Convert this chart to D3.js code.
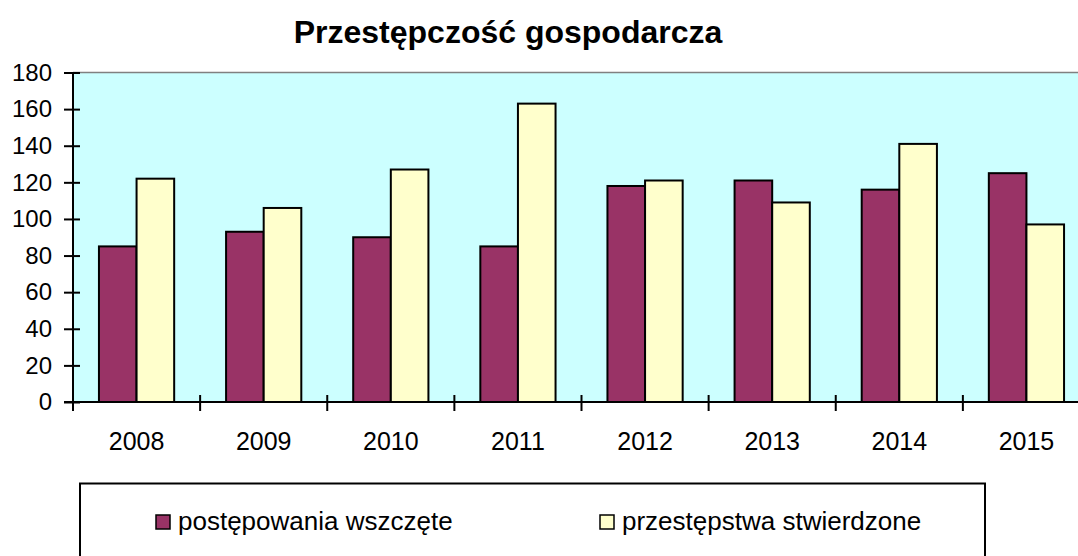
<!DOCTYPE html>
<html>
<head>
<meta charset="utf-8">
<script src="https://cdn.jsdelivr.net/npm/d3@7"></script>
<style>
  body { margin: 0; background: #fff; }
  text { font-family: "Liberation Sans", Arial, sans-serif; fill: #000; }
</style>
</head>
<body>
<svg id="chart" width="1078" height="556"></svg>
<script>
// data
const years = ["2008", "2009", "2010", "2011", "2012", "2013", "2014", "2015"];
const wszczete = [85, 93, 90, 85, 118, 121, 116, 125];
const stwierdzone = [122, 106, 127, 163, 121, 109, 141, 97];
const seriesNames = ["postępowania wszczęte", "przestępstwa stwierdzone"];
const seriesColors = ["#993366", "#FFFFCC"];
const yTicks = [0, 20, 40, 60, 80, 100, 120, 140, 160, 180];

const svg = d3.select("#chart");
const plot = {left: 73, top: 72.5, right: 1090, bottom: 402};

const x = d3.scaleBand().domain(years).range([plot.left, plot.right]);
const xInner = d3.scaleBand().domain([0, 1])
    .range([0, x.bandwidth()]).paddingOuter(0.69);
const y = d3.scaleLinear().domain([0, 180]).range([plot.bottom, plot.top]);

// plot background
svg.append("rect")
    .attr("x", plot.left).attr("y", plot.top)
    .attr("width", plot.right - plot.left).attr("height", plot.bottom - plot.top)
    .attr("fill", "#CCFFFF");
svg.append("line")
    .attr("x1", plot.left).attr("x2", plot.right)
    .attr("y1", y(180)).attr("y2", y(180))
    .attr("stroke", "#808080").attr("stroke-width", 1.5);

// bars
const groups = svg.append("g").selectAll("g")
    .data(years.map((yr, i) => ({yr, vals: [wszczete[i], stwierdzone[i]]})))
    .join("g")
    .attr("transform", d => `translate(${x(d.yr)},0)`);

groups.selectAll("rect")
    .data(d => d.vals.map((v, k) => ({v, k})))
    .join("rect")
    .attr("x", d => xInner(d.k))
    .attr("width", xInner.bandwidth())
    .attr("y", d => y(d.v))
    .attr("height", d => y(0) - y(d.v))
    .attr("fill", d => seriesColors[d.k])
    .attr("stroke", "#000").attr("stroke-width", 2);

// y axis
const yAxis = svg.append("g")
    .attr("transform", `translate(${plot.left},0)`)
    .call(d3.axisLeft(y).tickValues(yTicks).tickSize(0).tickPadding(21));
yAxis.select(".domain").remove();
yAxis.selectAll(".tick text").style("font-size", "24px")
    .attr("font-family", "Liberation Sans, Arial, sans-serif");
yAxis.selectAll(".tick").append("line")
    .attr("x1", -9).attr("x2", 7).attr("stroke", "#000").attr("stroke-width", 2);
svg.append("line")
    .attr("x1", plot.left).attr("x2", plot.left)
    .attr("y1", plot.top).attr("y2", plot.bottom + 9)
    .attr("stroke", "#000").attr("stroke-width", 2);

// x axis
svg.append("line")
    .attr("x1", plot.left - 9).attr("x2", plot.right)
    .attr("y1", plot.bottom).attr("y2", plot.bottom)
    .attr("stroke", "#000").attr("stroke-width", 2);
svg.append("g").selectAll("line")
    .data(years.slice(1))
    .join("line")
    .attr("x1", d => x(d)).attr("x2", d => x(d))
    .attr("y1", plot.bottom - 7).attr("y2", plot.bottom + 9)
    .attr("stroke", "#000").attr("stroke-width", 2);
svg.append("g").selectAll("text")
    .data(years)
    .join("text")
    .attr("x", d => x(d) + x.bandwidth() / 2)
    .attr("y", 450)
    .attr("text-anchor", "middle")
    .style("font-size", "25px")
    .text(d => d);

// title
svg.append("text")
    .attr("x", 508).attr("y", 43)
    .attr("text-anchor", "middle")
    .style("font-size", "32px").style("font-weight", "bold")
    .text("Przestępczość gospodarcza");

// legend
svg.append("rect")
    .attr("x", 80).attr("y", 483.5)
    .attr("width", 905).attr("height", 100)
    .attr("fill", "#fff").attr("stroke", "#000").attr("stroke-width", 2);
const legendX = [156, 600];
const leg = svg.append("g").selectAll("g")
    .data(seriesNames)
    .join("g")
    .attr("transform", (d, i) => `translate(${legendX[i]},515)`);
leg.append("rect")
    .attr("width", 14).attr("height", 14)
    .attr("fill", (d, i) => seriesColors[i])
    .attr("stroke", "#000").attr("stroke-width", 1.5);
leg.append("text")
    .attr("x", 22).attr("y", 15)
    .style("font-size", "26px")
    .text(d => d);
</script>
</body>
</html>
